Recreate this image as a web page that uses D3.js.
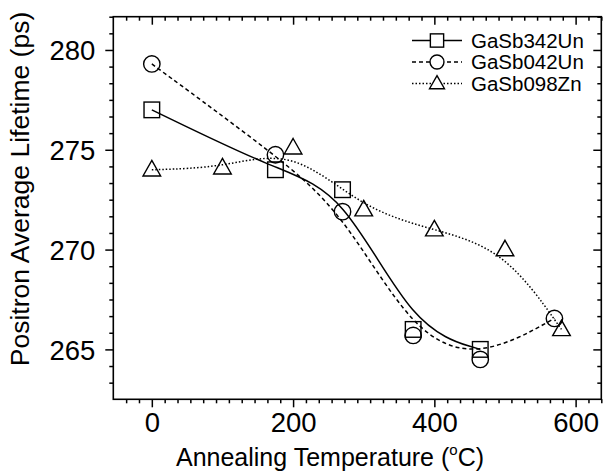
<html>
<meta charset="utf-8" />
<head>
<title>Positron lifetime</title>
<style>
body { margin: 0; background: #fff; }
svg text {
  font-family: Arial, "Liberation Sans", sans-serif;
  fill: black;
}
</style>
<script src="https://d3js.org/d3.v7.min.js" charset="utf-8"></script>
</head>
<body>
<svg class="chart"></svg>
<script>
var chartWidth = 603;
var chartHeight = 476;

// data
var seriesNames = ["GaSb342Un", "GaSb042Un", "GaSb098Zn"];
var tempSq = [0, 175, 270, 370, 465];
var lifeSq = [277, 274, 273, 266, 265];
var tempCi = [0, 175, 270, 370, 465, 570];
var lifeCi = [279.3, 274.75, 271.9, 265.7, 264.5, 266.55];
var tempTr = [0, 100, 200, 300, 400, 500, 580];
var lifeTr = [274, 274.1, 275.1, 272, 271, 270, 266];
var xTicks = [0, 200, 400, 600];
var yTicks = [265, 270, 275, 280];

var margin = {left: 113.3, right: 1.7, top: 16.7, bottom: 76.7};

var svg = d3.select(".chart")
  .attr("width", chartWidth)
  .attr("height", chartHeight);

// x: majors every 200 with 10 minor ticks between, y: majors every 5 with 5 minors
var xMinor = 200 / 11, yMinor = 5 / 6;
var x = d3.scaleLinear()
  .domain([-3 * xMinor, 600 + 2 * xMinor])
  .range([margin.left, chartWidth - margin.right]);
var y = d3.scaleLinear()
  .domain([265 - 3 * yMinor, 280 + 2 * yMinor])
  .range([chartHeight - margin.bottom, margin.top]);

var xMinorTicks = d3.range(-2, 36).map(function(i) { return i * xMinor; })
  .filter(function(v) { return Math.abs(v / 200 - Math.round(v / 200)) > 1e-6; });
var yMinorTicks = d3.range(-2, 21).map(function(i) { return 265 + i * yMinor; })
  .filter(function(v) { return Math.abs((v - 265) / 5 - Math.round((v - 265) / 5)) > 1e-6; });

function addAxis(axis, tr) {
  var g = svg.append("g").attr("transform", tr).call(axis);
  g.select(".domain").remove();
  g.selectAll("line").attr("stroke", "black").attr("stroke-width", 1.5);
  return g;
}

var plotB = chartHeight - margin.bottom, plotR = chartWidth - margin.right;

// bottom
var bx = addAxis(d3.axisBottom(x).tickValues(xTicks).tickSize(8).tickPadding(3), "translate(0," + plotB + ")");
bx.selectAll("text").attr("font-size", 27.5).attr("dy", "0.78em");
addAxis(d3.axisBottom(x).tickValues(xMinorTicks).tickSize(4).tickFormat(""), "translate(0," + plotB + ")");
// top (inward)
addAxis(d3.axisBottom(x).tickValues(xTicks).tickSize(8).tickFormat(""), "translate(0," + margin.top + ")");
addAxis(d3.axisBottom(x).tickValues(xMinorTicks).tickSize(4).tickFormat(""), "translate(0," + margin.top + ")");
// left
var ly = addAxis(d3.axisLeft(y).tickValues(yTicks).tickSize(8).tickPadding(10), "translate(" + margin.left + ",0)");
ly.selectAll("text").attr("font-size", 27.5).attr("dy", "0.36em");
addAxis(d3.axisLeft(y).tickValues(yMinorTicks).tickSize(4).tickFormat(""), "translate(" + margin.left + ",0)");
// right (inward)
addAxis(d3.axisLeft(y).tickValues(yTicks).tickSize(8).tickFormat(""), "translate(" + plotR + ",0)");
addAxis(d3.axisLeft(y).tickValues(yMinorTicks).tickSize(4).tickFormat(""), "translate(" + plotR + ",0)");

// frame
svg.append("rect")
  .attr("x", margin.left).attr("y", margin.top)
  .attr("width", plotR - margin.left).attr("height", plotB - margin.top)
  .attr("fill", "none").attr("stroke", "black").attr("stroke-width", 1.6);

// axis titles
var xt = svg.append("text").attr("x", 330).attr("y", 466)
  .attr("text-anchor", "middle").attr("font-size", 25);
xt.append("tspan").text("Annealing Temperature (");
xt.append("tspan").attr("font-size", 15).attr("dy", -11).text("o");
xt.append("tspan").attr("dy", 11).text("C)");

svg.append("text")
  .attr("transform", "translate(29,189) rotate(-90)")
  .attr("text-anchor", "middle").attr("font-size", 26.5)
  .text("Positron Average Lifetime (ps)");

// series
var series = [
  {name: seriesNames[0], xs: tempSq, ys: lifeSq, dash: null, shape: "square"},
  {name: seriesNames[1], xs: tempCi, ys: lifeCi, dash: "4,3", shape: "circle"},
  {name: seriesNames[2], xs: tempTr, ys: lifeTr, dash: "1.5,2", shape: "triangle"}
];

var line = d3.line().curve(d3.curveBasis)
  .x(function(d) { return x(d[0]); })
  .y(function(d) { return y(d[1]); });

function drawMarker(g, shape, cx, cy, k) {
  k = k || 1;
  if (shape === "square") {
    g.append("rect").attr("x", cx - 7.8 * k).attr("y", cy - 7.8 * k)
      .attr("width", 15.6 * k).attr("height", 15.6 * k);
  } else if (shape === "circle") {
    g.append("circle").attr("cx", cx).attr("cy", cy).attr("r", 8.2 * k);
  } else {
    g.append("path").attr("d", "M" + cx + "," + (cy - 9.3 * k) + "L" + (cx + 8.8 * k) + "," + (cy + 6.2 * k) +
      "L" + (cx - 8.8 * k) + "," + (cy + 6.2 * k) + "Z");
  }
}

series.forEach(function(s) {
  var pts = s.xs.map(function(v, i) { return [v, s.ys[i]]; });
  svg.append("path").datum(pts)
    .attr("d", line)
    .attr("fill", "none").attr("stroke", "black").attr("stroke-width", 1.5)
    .attr("stroke-dasharray", s.dash);
  var mg = svg.append("g").attr("fill", "none").attr("stroke", "black").attr("stroke-width", 1.4);
  pts.forEach(function(p) { drawMarker(mg, s.shape, x(p[0]), y(p[1])); });
});

// legend
var legY = [40.5, 62, 83.5];
series.forEach(function(s, i) {
  svg.append("line").attr("x1", 412).attr("x2", 462)
    .attr("y1", legY[i]).attr("y2", legY[i])
    .attr("stroke", "black").attr("stroke-width", 1.5)
    .attr("stroke-dasharray", s.dash);
  var mg = svg.append("g").attr("fill", "white").attr("stroke", "black").attr("stroke-width", 1.4);
  drawMarker(mg, s.shape, 437, legY[i], 0.85);
  svg.append("text").attr("x", 471).attr("y", legY[i]).attr("dy", "0.36em")
    .attr("font-size", 20.5).text(s.name);
});
</script>
</body>
</html>
